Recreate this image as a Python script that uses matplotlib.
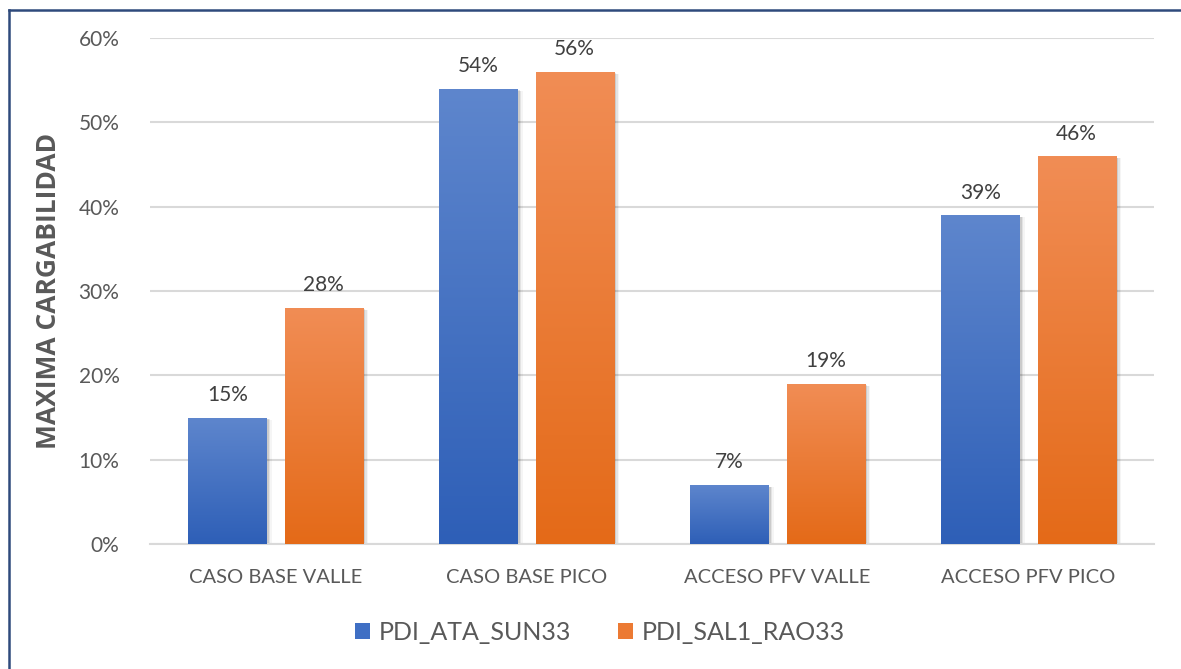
import matplotlib
matplotlib.use("Agg")
import matplotlib.pyplot as plt
import numpy as np
from matplotlib.colors import LinearSegmentedColormap
from matplotlib.lines import Line2D
from matplotlib.patches import Rectangle
from matplotlib.ticker import PercentFormatter, MultipleLocator

categories = ["CASO BASE VALLE", "CASO BASE PICO", "ACCESO PFV VALLE", "ACCESO PFV PICO"]
series_names = ["PDI_ATA_SUN33", "PDI_SAL1_RAO33"]
ata_sun33 = [0.15, 0.54, 0.07, 0.39]
sal1_rao33 = [0.28, 0.56, 0.19, 0.46]
value_labels_ata = ["15%", "54%", "7%", "39%"]
value_labels_sal = ["28%", "56%", "19%", "46%"]

blue_top, blue_bot = "#5e86cd", "#2e5fb7"
orange_top, orange_bot = "#f18d55", "#e46a18"

plt.rcParams["font.family"] = ["Lato", "DejaVu Sans"]

fig = plt.figure(figsize=(11.81, 6.69), dpi=100)
ax = fig.add_axes([150/1181, 1-544/669, 1004/1181, (544-38)/669])

x = np.arange(len(categories))
w = 0.311
off = (w + 0.072) / 2

def grad_bars(xs, vals, ctop, cbot, label):
    bars = ax.bar(xs, vals, width=w, color="none", edgecolor="none", label=label, zorder=3)
    cmap = LinearSegmentedColormap.from_list("g", [cbot, ctop])
    grad = np.linspace(0, 1, 256).reshape(-1, 1)
    for b in bars:
        x0, y0 = b.get_x(), b.get_y()
        bw, bh = b.get_width(), b.get_height()
        for i, a in enumerate([0.10, 0.07, 0.04]):
            d = 0.006 * (i + 1)
            sh = Rectangle((x0 + 0.004, y0 - 0.002 - 0.0004 * (i + 1)), bw + d, bh + 0.0005,
                           facecolor="black", alpha=a, edgecolor="none", zorder=2)
            ax.add_patch(sh)
        im = ax.imshow(grad, extent=(x0, x0 + bw, y0, y0 + bh), origin="lower",
                       cmap=cmap, aspect="auto", zorder=3)
        clip = Rectangle((x0, y0), bw, bh, transform=ax.transData)
        im.set_clip_path(clip)
    return bars

b1 = grad_bars(x - off, ata_sun33, blue_top, blue_bot, series_names[0])
b2 = grad_bars(x + off, sal1_rao33, orange_top, orange_bot, series_names[1])

for bars, labs in ((b1, value_labels_ata), (b2, value_labels_sal)):
    for b, t in zip(bars, labs):
        ax.annotate(t, (b.get_x() + b.get_width() / 2, b.get_height()),
                    xytext=(0, 9), textcoords="offset points", ha="center", va="bottom",
                    fontsize=15, color="#404040", zorder=5)

ax.set_xlim(-0.5, len(categories) - 0.5)
ax.set_ylim(0, 0.6)
ax.yaxis.set_major_locator(MultipleLocator(0.1))
ax.yaxis.set_major_formatter(PercentFormatter(1.0, decimals=0))
ax.set_xticks(x)
ax.set_xticklabels(categories)
ax.grid(axis="y", color="#d9d9d9", linewidth=1.5, zorder=0)
ax.set_axisbelow(True)
for s in ["top", "right", "left"]:
    ax.spines[s].set_visible(False)
ax.spines["bottom"].set_color("#d9d9d9")
ax.spines["bottom"].set_linewidth(1.5)
ax.tick_params(axis="both", length=0, colors="#595959")
ax.tick_params(axis="y", labelsize=15, pad=22)
ax.tick_params(axis="x", labelsize=14.5, pad=18)
ax.set_ylabel("MAXIMA CARGABILIDAD", fontsize=19, fontweight="bold", color="#595959",
              labelpad=12, family=["Open Sans", "DejaVu Sans"])

handles = [Rectangle((0, 0), 1, 1, facecolor="#3f6fc4"), Rectangle((0, 0), 1, 1, facecolor="#ec7a33")]
fig.legend(handles, series_names, loc="center", bbox_to_anchor=(600/1181, 1-632/669), ncol=2,
           frameon=False, fontsize=18, handlelength=0.6, handleheight=0.6, columnspacing=1.9,
           handletextpad=0.35, labelcolor="#595959")

fig.add_artist(Line2D([8.5/1181, 8.5/1181], [0, 1-9.5/669], color="#2f4a7c", linewidth=1.8,
                      transform=fig.transFigure))
fig.add_artist(Line2D([8.5/1181, 1], [1-9.5/669, 1-9.5/669], color="#2f4a7c", linewidth=1.8,
                      transform=fig.transFigure))

fig.savefig("out.png", dpi=100)
